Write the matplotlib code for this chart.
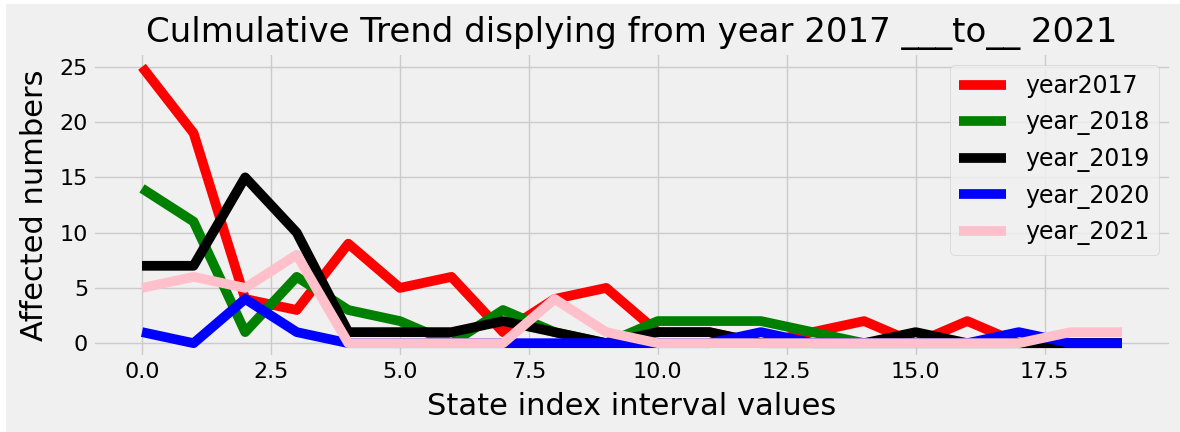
import matplotlib
matplotlib.use("Agg")
import matplotlib.pyplot as plt
from matplotlib.patches import Rectangle

# affected numbers per state index, one list per year
state_index = list(range(20))
year_2017 = [25, 19, 4, 3, 9, 5, 6, 1, 4, 5, 1, 1, 0, 1, 2, 0, 2, 0, 0, 0]
year_2018 = [14, 11, 1, 6, 3, 2, 0, 3, 1, 0, 2, 2, 2, 1, 0, 0, 0, 0, 0, 0]
year_2019 = [7, 7, 15, 10, 1, 1, 1, 2, 1, 0, 1, 1, 0, 0, 0, 1, 0, 0, 0, 0]
year_2020 = [1, 0, 4, 1, 0, 0, 0, 0, 0, 0, 0, 0, 1, 0, 0, 0, 0, 1, 0, 0]
year_2021 = [5, 6, 5, 8, 0, 0, 0, 0, 4, 1, 0, 0, 0, 0, 0, 0, 0, 0, 1, 1]

series = [
    (year_2017, "red", "year2017"),
    (year_2018, "green", "year_2018"),
    (year_2019, "black", "year_2019"),
    (year_2020, "blue", "year_2020"),
    (year_2021, "pink", "year_2021"),
]

plt.style.use("fivethirtyeight")

fig = plt.figure(figsize=(11.8, 4.32), dpi=100, facecolor="white")
# grey page with a thin white strip on top and left (screenshot look)
fig.patches.append(Rectangle((6 / 1180, 0), 1, 1 - 4 / 432,
                             transform=fig.transFigure, facecolor="#f0f0f0",
                             edgecolor="none", zorder=-10))

ax = fig.add_axes([93 / 1180, 1 - 357 / 432, (1171 - 93) / 1180, (357 - 53) / 432])

for values, color, label in series:
    ax.plot(state_index, values, color=color, linewidth=7, label=label)

ax.set_title("Culmulative Trend displying from year 2017 ___to__ 2021", fontsize=24.5, pad=8)
ax.set_xlabel("State index interval values", fontsize=22, labelpad=7)
ax.set_ylabel("Affected numbers", fontsize=22, labelpad=8)
ax.tick_params(labelsize=16)
ax.legend(loc="upper right", fontsize=17)

fig.savefig("out.png", dpi=100, facecolor=fig.get_facecolor())
